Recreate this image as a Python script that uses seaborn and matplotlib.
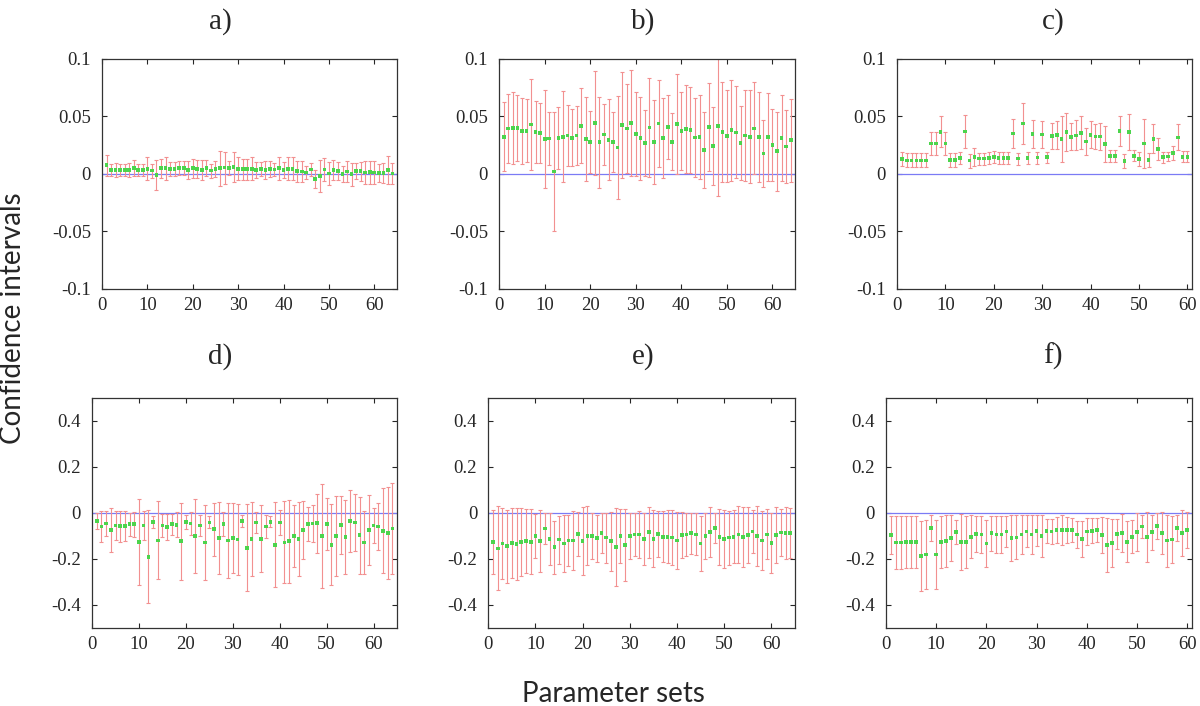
import numpy as np
import pandas as pd
import matplotlib
matplotlib.use("Agg")
import matplotlib.pyplot as plt
import seaborn as sns

# estimated centres and half-widths of the confidence intervals, per panel
a_mean = [0.0075, 0.0035, 0.0035, 0.0035, 0.0035, 0.0035, 0.0052, 0.0035, 0.0035, 0.0044,
          0.0029, -0.0009, 0.0049, 0.0049, 0.0046, 0.0041, 0.0052, 0.0052, 0.0032, 0.0049,
          0.0041, 0.0035, 0.0049, 0.0029, 0.0044, 0.0049, 0.0055, 0.0049, 0.0061, 0.0044,
          0.0041, 0.0041, 0.0046, 0.0032, 0.0041, 0.0032, 0.0041, 0.0038, 0.0049, 0.0032,
          0.0046, 0.0046, 0.0023, 0.0020, 0.0012, 0.0038, -0.0046, -0.0015, 0.0038, 0.0003,
          0.0035, 0.0026, -0.0003, 0.0020, -0.0003, 0.0023, 0.0023, 0.0012, 0.0017, 0.0012,
          0.0009, 0.0009, 0.0035, 0.0003]
a_err = [0.009, 0.005, 0.006, 0.005, 0.005, 0.006, 0.007, 0.005, 0.005, 0.010,
         0.006, 0.013, 0.008, 0.010, 0.006, 0.006, 0.006, 0.006, 0.008, 0.008,
         0.008, 0.009, 0.007, 0.006, 0.007, 0.015, 0.014, 0.006, 0.013, 0.010,
         0.009, 0.009, 0.010, 0.007, 0.006, 0.008, 0.007, 0.006, 0.010, 0.007,
         0.010, 0.010, 0.009, 0.009, 0.006, 0.006, 0.008, 0.014, 0.010, 0.010,
         0.009, 0.008, 0.007, 0.009, 0.010, 0.007, 0.008, 0.010, 0.010, 0.010,
         0.008, 0.009, 0.012, 0.009]

b_mean = [0.0324, 0.0396, 0.0399, 0.0399, 0.0376, 0.0376, 0.0431, 0.0367, 0.0358, 0.0303,
          0.0309, 0.0020, 0.0312, 0.0324, 0.0335, 0.0315, 0.0335, 0.0419, 0.0306, 0.0277,
          0.0442, 0.0275, 0.0344, 0.0298, 0.0277, 0.0231, 0.0425, 0.0396, 0.0442, 0.0347,
          0.0312, 0.0269, 0.0405, 0.0275, 0.0439, 0.0315, 0.0408, 0.0280, 0.0436, 0.0373,
          0.0393, 0.0384, 0.0318, 0.0321, 0.0208, 0.0408, 0.0243, 0.0419, 0.0364, 0.0332,
          0.0381, 0.0361, 0.0272, 0.0335, 0.0324, 0.0396, 0.0321, 0.0179, 0.0321, 0.0254,
          0.0197, 0.0312, 0.0240, 0.0295]
b_err = [0.0299, 0.0298, 0.0316, 0.0289, 0.0286, 0.0272, 0.0393, 0.0269, 0.0260, 0.0426,
         0.0228, 0.0519, 0.0272, 0.0396, 0.0263, 0.0250, 0.0256, 0.0325, 0.0364, 0.0269,
         0.0451, 0.0393, 0.0262, 0.0354, 0.0260, 0.0445, 0.0458, 0.0386, 0.0461, 0.0368,
         0.0361, 0.0283, 0.0428, 0.0364, 0.0380, 0.0347, 0.0277, 0.0249, 0.0435, 0.0340,
         0.0384, 0.0376, 0.0342, 0.0368, 0.0334, 0.0381, 0.0340, 0.0607, 0.0435, 0.0399,
         0.0439, 0.0400, 0.0321, 0.0399, 0.0402, 0.0400, 0.0394, 0.0292, 0.0383, 0.0314,
         0.0344, 0.0373, 0.0316, 0.0361]

c_mean = [0.0130, 0.0118, 0.0118, 0.0118, 0.0118, 0.0118, 0.0266, 0.0266, 0.0367, 0.0266,
          0.0121, 0.0121, 0.0136, 0.0370, 0.0116, 0.0147, 0.0133, 0.0133, 0.0136, 0.0145,
          0.0136, 0.0139, 0.0136, 0.0353, 0.0133, 0.0440, 0.0139, 0.0347, 0.0142, 0.0344,
          0.0147, 0.0332, 0.0340, 0.0303, 0.0364, 0.0324, 0.0335, 0.0358, 0.0283, 0.0340,
          0.0327, 0.0327, 0.0263, 0.0156, 0.0156, 0.0373, 0.0113, 0.0367, 0.0159, 0.0130,
          0.0266, 0.0124, 0.0306, 0.0217, 0.0147, 0.0153, 0.0182, 0.0318, 0.0150, 0.0150]
c_err = [0.0062, 0.0061, 0.0061, 0.0061, 0.0061, 0.0061, 0.0103, 0.0101, 0.0136, 0.0101,
         0.0059, 0.0059, 0.0051, 0.0143, 0.0061, 0.0077, 0.0051, 0.0051, 0.0051, 0.0052,
         0.0052, 0.0052, 0.0051, 0.0127, 0.0052, 0.0178, 0.0049, 0.0123, 0.0052, 0.0116,
         0.0048, 0.0111, 0.0120, 0.0197, 0.0165, 0.0116, 0.0130, 0.0145, 0.0118, 0.0118,
         0.0110, 0.0116, 0.0155, 0.0048, 0.0048, 0.0131, 0.0061, 0.0155, 0.0048, 0.0062,
         0.0215, 0.0061, 0.0126, 0.0098, 0.0048, 0.0040, 0.0058, 0.0113, 0.0049, 0.0049]

d_mean = [-0.036, -0.059, -0.046, -0.075, -0.055, -0.057, -0.058, -0.049, -0.049, -0.125,
          -0.054, -0.190, -0.039, -0.119, -0.054, -0.061, -0.049, -0.051, -0.123, -0.038,
          -0.046, -0.100, -0.055, -0.128, -0.041, -0.071, -0.110, -0.048, -0.119, -0.110,
          -0.116, -0.036, -0.151, -0.113, -0.041, -0.112, -0.059, -0.038, -0.138, -0.042,
          -0.128, -0.123, -0.100, -0.112, -0.075, -0.049, -0.046, -0.045, -0.099, -0.048,
          -0.138, -0.099, -0.052, -0.104, -0.035, -0.041, -0.097, -0.128, -0.074, -0.054,
          -0.059, -0.077, -0.088, -0.068]
d_err = [0.035, 0.067, 0.054, 0.096, 0.062, 0.067, 0.065, 0.051, 0.054, 0.186,
         0.064, 0.203, 0.025, 0.170, 0.049, 0.055, 0.046, 0.054, 0.167, 0.030,
         0.051, 0.159, 0.047, 0.163, 0.026, 0.116, 0.156, 0.051, 0.162, 0.152,
         0.153, 0.026, 0.188, 0.162, 0.045, 0.145, 0.049, 0.025, 0.185, 0.054,
         0.178, 0.180, 0.135, 0.161, 0.126, 0.074, 0.080, 0.129, 0.226, 0.115,
         0.175, 0.174, 0.127, 0.160, 0.133, 0.125, 0.167, 0.138, 0.151, 0.075,
         0.101, 0.184, 0.201, 0.197]

e_mean = [-0.126, -0.154, -0.133, -0.145, -0.130, -0.135, -0.126, -0.122, -0.125, -0.100,
          -0.122, -0.068, -0.113, -0.149, -0.116, -0.132, -0.120, -0.119, -0.091, -0.123,
          -0.099, -0.099, -0.110, -0.087, -0.107, -0.123, -0.149, -0.099, -0.139, -0.099,
          -0.093, -0.094, -0.112, -0.083, -0.112, -0.091, -0.103, -0.103, -0.107, -0.120,
          -0.096, -0.093, -0.088, -0.093, -0.132, -0.100, -0.083, -0.065, -0.104, -0.113,
          -0.107, -0.104, -0.094, -0.104, -0.096, -0.080, -0.100, -0.120, -0.093, -0.130,
          -0.096, -0.085, -0.088, -0.087]
e_err = [0.141, 0.183, 0.155, 0.159, 0.153, 0.156, 0.148, 0.139, 0.141, 0.094,
         0.136, 0.067, 0.111, 0.116, 0.104, 0.124, 0.112, 0.128, 0.096, 0.147,
         0.129, 0.099, 0.102, 0.085, 0.109, 0.129, 0.169, 0.118, 0.156, 0.100,
         0.095, 0.101, 0.114, 0.111, 0.125, 0.099, 0.112, 0.114, 0.120, 0.125,
         0.100, 0.093, 0.090, 0.091, 0.119, 0.100, 0.108, 0.064, 0.122, 0.128,
         0.117, 0.115, 0.124, 0.130, 0.123, 0.094, 0.129, 0.127, 0.109, 0.130,
         0.123, 0.104, 0.113, 0.110]

f_mean = [-0.097, -0.128, -0.128, -0.126, -0.126, -0.126, -0.187, -0.181, -0.064, -0.181,
          -0.125, -0.122, -0.109, -0.083, -0.126, -0.125, -0.103, -0.090, -0.094, -0.132,
          -0.088, -0.093, -0.093, -0.081, -0.109, -0.106, -0.093, -0.080, -0.093, -0.077,
          -0.101, -0.078, -0.080, -0.074, -0.074, -0.075, -0.075, -0.093, -0.112, -0.080,
          -0.077, -0.074, -0.096, -0.139, -0.130, -0.091, -0.087, -0.125, -0.104, -0.084,
          -0.059, -0.104, -0.084, -0.057, -0.087, -0.120, -0.116, -0.065, -0.088, -0.074]
f_err = [0.083, 0.114, 0.114, 0.113, 0.113, 0.113, 0.154, 0.149, 0.057, 0.151,
         0.114, 0.112, 0.099, 0.053, 0.120, 0.113, 0.093, 0.078, 0.081, 0.101,
         0.077, 0.081, 0.081, 0.069, 0.101, 0.096, 0.084, 0.070, 0.084, 0.067,
         0.092, 0.053, 0.053, 0.056, 0.065, 0.057, 0.051, 0.060, 0.079, 0.058,
         0.054, 0.051, 0.080, 0.117, 0.105, 0.066, 0.084, 0.090, 0.072, 0.082,
         0.049, 0.108, 0.075, 0.055, 0.093, 0.113, 0.103, 0.055, 0.099, 0.078]

titles = ["a)", "b)", "c)", "d)", "e)", "f)"]
means = [a_mean, b_mean, c_mean, d_mean, e_mean, f_mean]
errs = [a_err, b_err, c_err, d_err, e_err, f_err]
x_ticks = [0, 10, 20, 30, 40, 50, 60]
top_yticks = [-0.1, -0.05, 0, 0.05, 0.1]
bottom_yticks = [-0.4, -0.2, 0, 0.2, 0.4]

sns.set_style("ticks")
plt.rcParams['font.family'] = ['Liberation Serif', 'DejaVu Serif']
plt.rcParams['axes.unicode_minus'] = False
plt.rcParams['xtick.direction'] = 'in'
plt.rcParams['ytick.direction'] = 'in'

fig = plt.figure(figsize=(12, 7.06), dpi=100)

# axes boxes in figure fractions (left, bottom, width, height)
boxes = [(0.085, 0.5907, 0.2458, 0.3258),
         (0.416, 0.5907, 0.2467, 0.3258),
         (0.7475, 0.5907, 0.246, 0.3258),
         (0.0767, 0.1105, 0.2542, 0.3258),
         (0.4069, 0.1105, 0.2556, 0.3258),
         (0.7383, 0.1105, 0.2552, 0.3258)]
# title positions are not centred over the boxes in the original
title_x = [0.40, 0.486, 0.529, 0.42, 0.505, 0.546]

for k in range(6):
    ax = fig.add_axes(boxes[k])
    df = pd.DataFrame({"set": np.arange(1, len(means[k]) + 1),
                       "value": means[k], "err": errs[k]})
    ax.axhline(0, color='#7b7bf5', lw=0.9, zorder=1)
    ax.errorbar(df["set"], df["value"], yerr=df["err"], fmt='none',
                ecolor='#f29090', elinewidth=0.8, capsize=1.6, capthick=0.8, zorder=2)
    sns.scatterplot(data=df, x="set", y="value", marker='s', s=7,
                    color='#4cd44c', edgecolor='none', ax=ax, zorder=3)
    ax.set_xlim(0, len(means[k]) + 1)
    if k < 3:
        ax.set_ylim(-0.1, 0.1)
        yt = top_yticks
        pad = 22
    else:
        ax.set_ylim(-0.5, 0.5)
        yt = bottom_yticks
        pad = 25
    ax.set_xticks(x_ticks)
    ax.set_yticks(yt)
    ax.set_yticklabels([f"{t:g}" for t in yt])
    ax.tick_params(top=True, right=True, labelsize=13.5, length=3.5, width=0.8)
    ax.tick_params(axis='y', pad=8)
    ax.tick_params(axis='x', pad=6)
    for s in ax.spines.values():
        s.set_color('#333333')
        s.set_linewidth(0.9)
    ax.set_xlabel('')
    ax.set_ylabel('')
    ax.set_title(titles[k], fontsize=21, pad=pad, x=title_x[k])

fig.text(0.511, 0.006, 'Parameter sets', ha='center', va='baseline',
         fontsize=20, family='Lato')
fig.text(0.011, 0.55, 'Confidence intervals', ha='center', va='center',
         rotation=90, fontsize=20, family='Lato')

fig.savefig("out.png", dpi=100)
